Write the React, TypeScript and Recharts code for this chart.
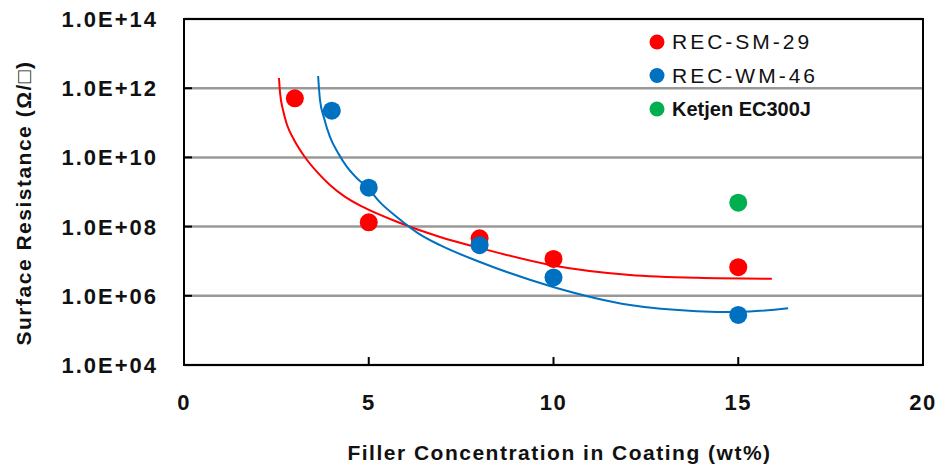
import {
  ScatterChart,
  Scatter,
  XAxis,
  YAxis,
  CartesianGrid,
  ReferenceArea,
} from 'recharts';

const FONT = '"Liberation Sans", Arial, sans-serif';

// measured points
const recSm29 = [
  { x: 3, y: 5.1e11 },
  { x: 5, y: 1.33e8 },
  { x: 8, y: 4.6e7 },
  { x: 10, y: 1.16e7 },
  { x: 15, y: 6.7e6 },
];
const recWm46 = [
  { x: 4, y: 2.24e11 },
  { x: 5, y: 1.33e9 },
  { x: 8, y: 2.9e7 },
  { x: 10, y: 3.4e6 },
  { x: 15, y: 2.8e5 },
];
const ketjen = [{ x: 15, y: 4.9e8 }];

// trend curves
const recSm29Trend = [
  { x: 2.57, y: 1.97e12 },
  { x: 2.6, y: 7.3e11 },
  { x: 2.68, y: 2.34e11 },
  { x: 2.79, y: 8.6e10 },
  { x: 2.98, y: 3.2e10 },
  { x: 3.27, y: 1.03e10 },
  { x: 3.6, y: 3.8e9 },
  { x: 3.95, y: 1.59e9 },
  { x: 4.36, y: 7.2e8 },
  { x: 4.84, y: 3.7e8 },
  { x: 5.85, y: 1.27e8 },
  { x: 6.93, y: 5.0e7 },
  { x: 8.01, y: 2.4e7 },
  { x: 9.91, y: 7.8e6 },
  { x: 12.07, y: 4.0e6 },
  { x: 13.88, y: 3.3e6 },
  { x: 15.91, y: 3.1e6 },
];
const recWm46Trend = [
  { x: 3.63, y: 2.25e12 },
  { x: 3.68, y: 4.6e11 },
  { x: 3.79, y: 1.38e11 },
  { x: 3.95, y: 3.9e10 },
  { x: 4.17, y: 1.34e10 },
  { x: 4.41, y: 5.3e9 },
  { x: 4.68, y: 2.5e9 },
  { x: 4.98, y: 1.3e9 },
  { x: 5.3, y: 5.1e8 },
  { x: 5.76, y: 1.9e8 },
  { x: 6.33, y: 6.5e7 },
  { x: 6.93, y: 2.9e7 },
  { x: 8.01, y: 9.5e6 },
  { x: 9.99, y: 1.8e6 },
  { x: 12.07, y: 5.4e5 },
  { x: 13.88, y: 3.6e5 },
  { x: 14.99, y: 3.4e5 },
  { x: 16.35, y: 4.4e5 },
];

const legendItems = [
  { name: 'REC-SM-29', color: '#ff0000', bold: false },
  { name: 'REC-WM-46', color: '#0070c0', bold: false },
  { name: 'Ketjen EC300J', color: '#00b050', bold: true },
];

const xTicks = [0, 5, 10, 15, 20];
const yTicks = [1e4, 1e6, 1e8, 1e10, 1e12, 1e14];

const fmtSci = (v: number) => {
  const e = Math.round(Math.log10(v));
  return `1.0E+${String(e).padStart(2, '0')}`;
};

const dot = (color: string) => (props: any) => (
  <circle cx={props.cx} cy={props.cy} r={9} fill={color} />
);

const XTick = (props: any) => {
  const { x, y, payload } = props;
  return (
    <g>
      <line x1={x} y1={y} x2={x} y2={y - 8} stroke="#000" strokeWidth={2} />
      <text
        x={x}
        y={y + 45}
        textAnchor="middle"
        fontFamily={FONT}
        fontSize={22}
        fontWeight="bold"
        fill="#111"
        style={{ letterSpacing: 1.5 }}
      >
        {payload.value}
      </text>
    </g>
  );
};

const YTick = (props: any) => {
  const { x, y, payload } = props;
  return (
    <g>
      <line x1={x} y1={y} x2={x + 8} y2={y} stroke="#000" strokeWidth={2} />
      <text
        x={x - 26}
        y={y + 8}
        textAnchor="end"
        fontFamily={FONT}
        fontSize={22}
        fontWeight="bold"
        fill="#111"
        style={{ letterSpacing: 2 }}
      >
        {fmtSci(payload.value)}
      </text>
    </g>
  );
};

const LegendBox = () => (
  <svg
    width={230}
    height={110}
    style={{ position: 'absolute', left: 645, top: 25, pointerEvents: 'none' }}
  >
    {legendItems.map((p, i) => {
      const cy = 17 + i * 33.5;
      return (
        <g key={p.name}>
          <circle cx={12} cy={cy} r={7.5} fill={p.color} />
          <text
            x={27}
            y={cy + 7}
            fontFamily={FONT}
            fontSize={p.bold ? 20 : 21}
            fontWeight={p.bold ? 'bold' : 'normal'}
            fill="#111"
            style={{ letterSpacing: p.bold ? 0 : 3 }}
          >
            {p.name}
          </text>
        </g>
      );
    })}
  </svg>
);

export default function App() {
  return (
    <div style={{ position: 'absolute', left: 0, top: 0, width: 942, height: 468, background: '#fff' }}>
      <ScatterChart
        width={942}
        height={468}
        margin={{ top: 19, right: 19, bottom: 0, left: 0 }}
      >
        <CartesianGrid vertical={false} stroke="#999" strokeWidth={2.5} />
        <XAxis
          type="number"
          dataKey="x"
          domain={[0, 20]}
          ticks={xTicks}
          height={103}
          axisLine={{ stroke: '#000', strokeWidth: 2 }}
          tickLine={false}
          tickSize={0}
          tickMargin={0}
          tick={<XTick />}
          label={{
            content: ({ viewBox }: any) => (
              <text
                x={viewBox.x + viewBox.width / 2 + 6}
                y={viewBox.y + 95}
                textAnchor="middle"
                fontFamily={FONT}
                fontSize={21}
                fontWeight="bold"
                fill="#111"
                style={{ letterSpacing: 1.5 }}
              >
                Filler Concentration in Coating (wt%)
              </text>
            ),
          }}
        />
        <YAxis
          type="number"
          dataKey="y"
          scale="log"
          domain={[1e4, 1e14]}
          ticks={yTicks}
          allowDataOverflow
          width={184}
          axisLine={{ stroke: '#000', strokeWidth: 2 }}
          tickLine={false}
          tickSize={0}
          tickMargin={0}
          tick={<YTick />}
          label={{
            content: ({ viewBox }: any) => {
              const cy = viewBox.y + viewBox.height / 2 + 11;
              return (
                <text
                  x={31}
                  y={cy}
                  transform={`rotate(-90 31 ${cy})`}
                  textAnchor="middle"
                  fontFamily={FONT}
                  fontSize={21}
                  fontWeight="bold"
                  fill="#111"
                  style={{ letterSpacing: 1.5 }}
                >
                  Surface Resistance (Ω/□)
                </text>
              );
            },
          }}
        />
        <ReferenceArea
          x1={0}
          x2={20}
          y1={1e4}
          y2={1e14}
          fill="none"
          stroke="#000"
          strokeWidth={2}
          fillOpacity={0}
          ifOverflow="visible"
        />
        <Scatter
          name="SM-29 trend"
          data={recSm29Trend}
          line={{ stroke: '#ff0000', strokeWidth: 2 }}
          lineJointType="monotoneX"
          shape={() => <g />}
          legendType="none"
          fill="#ff0000"
          isAnimationActive={false}
        />
        <Scatter
          name="WM-46 trend"
          data={recWm46Trend}
          line={{ stroke: '#0070c0', strokeWidth: 2 }}
          lineJointType="monotoneX"
          shape={() => <g />}
          legendType="none"
          fill="#0070c0"
          isAnimationActive={false}
        />
        <Scatter
          name="REC-SM-29"
          data={recSm29}
          fill="#ff0000"
          shape={dot('#ff0000')}
          isAnimationActive={false}
        />
        <Scatter
          name="REC-WM-46"
          data={recWm46}
          fill="#0070c0"
          shape={dot('#0070c0')}
          isAnimationActive={false}
        />
        <Scatter
          name="Ketjen EC300J"
          data={ketjen}
          fill="#00b050"
          shape={dot('#00b050')}
          isAnimationActive={false}
        />
      </ScatterChart>
      <LegendBox />
    </div>
  );
}
